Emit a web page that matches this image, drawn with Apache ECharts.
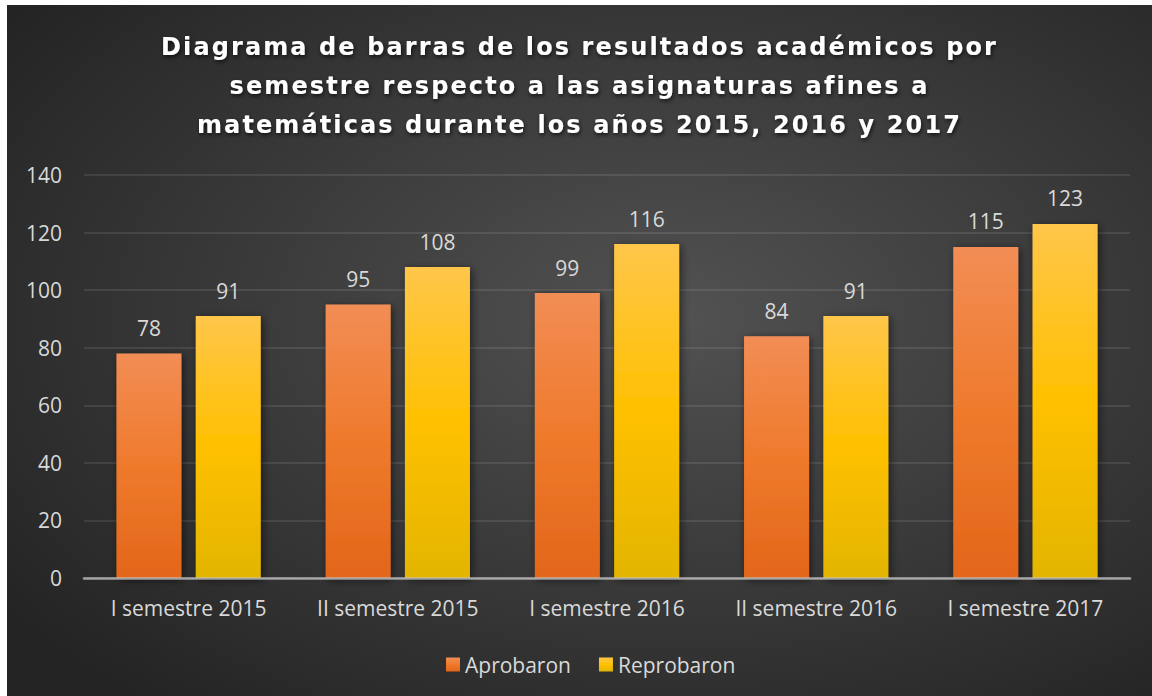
<!DOCTYPE html>
<html>
<head>
<meta charset="utf-8">
<script src="https://cdn.jsdelivr.net/npm/echarts@6/dist/echarts.min.js"></script>
<style>
  html, body { margin: 0; padding: 0; background: #ffffff; }
  #chart { position: absolute; left: 7px; top: 5px; width: 1145px; height: 691px; }
  /* espaciado de letras del título (solo el título usa DejaVu) */
  #chart svg text[style*="DejaVu"] { letter-spacing: 2.1px; }
</style>
</head>
<body>
<div id="chart"></div>
<script>
const titleText = 'Diagrama de barras de los resultados académicos por\nsemestre respecto a las asignaturas afines a\nmatemáticas durante los años 2015, 2016 y 2017'
const categories = ['I semestre 2015', 'II semestre 2015', 'I semestre 2016', 'II semestre 2016', 'I semestre 2017']
const aprobaron = [78, 95, 99, 84, 115]
const reprobaron = [91, 108, 116, 91, 123]
const yTicks = { min: 0, max: 140, interval: 20 }

const labelColor = '#d9d9d9'
const font = '"Open Sans", sans-serif'

const chart = echarts.init(document.getElementById('chart'), null, { renderer: 'svg' })

// degradado vertical como en Excel
function barGradient(top, mid, bottom) {
  return new echarts.graphic.LinearGradient(0, 0, 0, 1, [
    { offset: 0, color: top },
    { offset: 0.5, color: mid },
    { offset: 1, color: bottom }
  ])
}

const barShadow = {
  shadowBlur: 8,
  shadowColor: 'rgba(0, 0, 0, 0.55)',
  shadowOffsetX: 2,
  shadowOffsetY: 2
}

const option = {
  animation: false,
  backgroundColor: {
    type: 'radial',
    x: 0.58,
    y: 0.45,
    r: 0.72,
    colorStops: [
      { offset: 0, color: '#525252' },
      { offset: 1, color: '#242424' }
    ]
  },
  title: {
    text: titleText,
    left: 'center',
    top: 22,
    padding: [0, 0, 0, 6],
    textStyle: {
      color: '#ffffff',
      fontFamily: 'DejaVu Sans',
      fontWeight: 'bold',
      fontSize: 24,
      lineHeight: 39,
      align: 'center',
      textShadowColor: 'rgba(0, 0, 0, 0.7)',
      textShadowBlur: 4,
      textShadowOffsetX: 1,
      textShadowOffsetY: 2
    }
  },
  legend: {
    data: ['Aprobaron', 'Reprobaron'],
    left: 434,
    top: 644,
    icon: 'rect',
    itemWidth: 14,
    itemHeight: 14,
    itemGap: 28,
    textStyle: { color: labelColor, fontFamily: font, fontSize: 21 }
  },
  grid: {
    left: 77,
    top: 170,
    width: 1046,
    height: 403,
    containLabel: false
  },
  xAxis: {
    type: 'category',
    data: categories,
    z: 5,
    axisLine: { show: true, lineStyle: { color: 'rgba(200, 200, 200, 0.75)', width: 2.5 } },
    axisTick: { show: false },
    axisLabel: { interval: 0, hideOverlap: false, color: labelColor, fontFamily: font, fontSize: 21, margin: 19 },
    splitLine: { show: false }
  },
  yAxis: {
    type: 'value',
    min: yTicks.min,
    max: yTicks.max,
    interval: yTicks.interval,
    axisLine: { show: false },
    axisTick: { show: false },
    axisLabel: { color: labelColor, fontFamily: font, fontSize: 21, margin: 22 },
    splitLine: { lineStyle: { color: 'rgba(255, 255, 255, 0.13)', width: 1.5 } }
  },
  series: [
    {
      name: 'Aprobaron',
      type: 'bar',
      data: aprobaron,
      barWidth: 65,
      barGap: '22%',
      itemStyle: Object.assign({ color: barGradient('#f28d55', '#ef7a2c', '#e3661a') }, barShadow),
      label: { show: true, position: 'top', distance: 15, color: labelColor, fontFamily: font, fontSize: 21 }
    },
    {
      name: 'Reprobaron',
      type: 'bar',
      data: reprobaron,
      barWidth: 65,
      itemStyle: Object.assign({ color: barGradient('#ffc64a', '#ffc000', '#e3b500') }, barShadow),
      label: { show: true, position: 'top', distance: 15, color: labelColor, fontFamily: font, fontSize: 21 }
    }
  ]
}

chart.setOption(option)
window.addEventListener('resize', () => chart.resize())
</script>
</body>
</html>
